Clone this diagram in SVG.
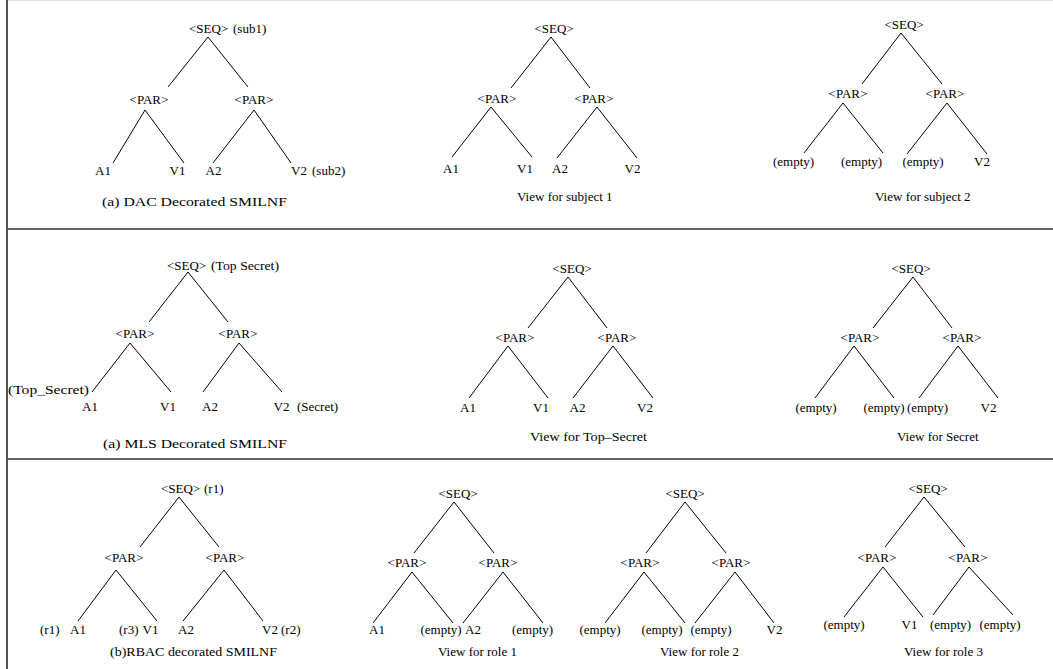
<svg xmlns="http://www.w3.org/2000/svg" width="1053" height="669" viewBox="0 0 1053 669">
  <style>
    text { font-family: "Liberation Serif", "Times New Roman", serif; font-size: 13px; fill: #000; }
    .c { text-anchor: middle; }
    .edge { stroke: #000; stroke-width: 1; fill: none; }
    .frame { stroke: #333; stroke-width: 1.5; fill: none; }
  </style>
  <rect x="0" y="0" width="1053" height="669" fill="#fff"/>

  <!-- frame and row separators -->
  <g id="frame">
    <line x1="8" y1="0.5" x2="1053" y2="0.5" stroke="#ddd" stroke-width="1"/>
    <line x1="7" y1="0" x2="7" y2="669" stroke="#555" stroke-width="2"/>
    <line class="frame" x1="8" y1="229" x2="1053" y2="229"/>
    <line class="frame" x1="8" y1="459" x2="1053" y2="459"/>
  </g>

  <!-- tree edges -->
  <g id="connectors" class="edge">
    <!-- DAC decorated -->
    <line x1="208" y1="37" x2="168" y2="87"/><line x1="208" y1="37" x2="248" y2="87"/>
    <line x1="145" y1="110" x2="113" y2="163"/><line x1="145" y1="110" x2="184" y2="163"/>
    <line x1="254" y1="110" x2="213" y2="163"/><line x1="254" y1="110" x2="291" y2="163"/>
    <!-- subject 1 -->
    <line x1="551" y1="37" x2="511" y2="88"/><line x1="551" y1="37" x2="590" y2="88"/>
    <line x1="491" y1="107" x2="452" y2="157"/><line x1="491" y1="107" x2="532" y2="157"/>
    <line x1="597" y1="107" x2="557" y2="158"/><line x1="597" y1="107" x2="637" y2="158"/>
    <!-- subject 2 -->
    <line x1="901" y1="33" x2="862" y2="84"/><line x1="901" y1="33" x2="942" y2="84"/>
    <line x1="843" y1="103" x2="804" y2="153"/><line x1="843" y1="103" x2="883" y2="153"/>
    <line x1="947" y1="103" x2="907" y2="154"/><line x1="947" y1="103" x2="987" y2="154"/>
    <!-- MLS decorated -->
    <line x1="188" y1="272" x2="149" y2="322"/><line x1="188" y1="272" x2="228" y2="322"/>
    <line x1="130" y1="343" x2="92" y2="392"/><line x1="130" y1="343" x2="171" y2="392"/>
    <line x1="239" y1="343" x2="203" y2="392"/><line x1="239" y1="343" x2="282" y2="392"/>
    <!-- Top-Secret -->
    <line x1="568" y1="277" x2="528" y2="328"/><line x1="568" y1="277" x2="607" y2="328"/>
    <line x1="508" y1="346" x2="469" y2="398"/><line x1="508" y1="346" x2="548" y2="398"/>
    <line x1="613" y1="346" x2="573" y2="398"/><line x1="613" y1="346" x2="653" y2="398"/>
    <!-- Secret -->
    <line x1="913" y1="277" x2="873" y2="328"/><line x1="913" y1="277" x2="952" y2="328"/>
    <line x1="854" y1="346" x2="815" y2="398"/><line x1="854" y1="346" x2="894" y2="398"/>
    <line x1="958" y1="346" x2="919" y2="398"/><line x1="958" y1="346" x2="998" y2="398"/>
    <!-- RBAC decorated -->
    <line x1="179" y1="497" x2="140" y2="547"/><line x1="179" y1="497" x2="219" y2="547"/>
    <line x1="116" y1="570" x2="78" y2="621"/><line x1="116" y1="570" x2="157" y2="621"/>
    <line x1="224" y1="570" x2="183" y2="621"/><line x1="224" y1="570" x2="263" y2="621"/>
    <!-- role 1 -->
    <line x1="454" y1="502" x2="414" y2="553"/><line x1="454" y1="502" x2="494" y2="553"/>
    <line x1="412" y1="572" x2="373" y2="623"/><line x1="412" y1="572" x2="453" y2="623"/>
    <line x1="503" y1="572" x2="463" y2="623"/><line x1="503" y1="572" x2="543" y2="623"/>
    <!-- role 2 -->
    <line x1="685" y1="502" x2="646" y2="553"/><line x1="685" y1="502" x2="726" y2="553"/>
    <line x1="644" y1="572" x2="605" y2="623"/><line x1="644" y1="572" x2="685" y2="623"/>
    <line x1="735" y1="572" x2="695" y2="623"/><line x1="735" y1="572" x2="774" y2="623"/>
    <!-- role 3 -->
    <line x1="924" y1="497" x2="885" y2="547"/><line x1="924" y1="497" x2="965" y2="547"/>
    <line x1="883" y1="567" x2="844" y2="617"/><line x1="883" y1="567" x2="923" y2="617"/>
    <line x1="969" y1="567" x2="933" y2="615"/><line x1="969" y1="567" x2="1013" y2="615"/>
  </g>

  <!-- ===== DAC decorated SMILNF ===== -->
  <g id="dac-seq"><text class="c" x="208.5" y="33">&lt;SEQ&gt;</text><text x="233" y="33">(sub1)</text></g>
  <g id="dac-par1"><text class="c" x="149" y="104">&lt;PAR&gt;</text></g>
  <g id="dac-par2"><text class="c" x="254" y="104">&lt;PAR&gt;</text></g>
  <g id="dac-a1"><text class="c" x="103" y="175">A1</text></g>
  <g id="dac-v1"><text class="c" x="177.5" y="175">V1</text></g>
  <g id="dac-a2"><text class="c" x="213.5" y="175">A2</text></g>
  <g id="dac-v2"><text class="c" x="299" y="175">V2</text><text x="312" y="175">(sub2)</text></g>
  <g id="dac-caption"><text x="102" y="206" textLength="185" lengthAdjust="spacingAndGlyphs">(a) DAC  Decorated SMILNF</text></g>

  <!-- ===== view for subject 1 ===== -->
  <g id="s1-seq"><text class="c" x="554" y="33">&lt;SEQ&gt;</text></g>
  <g id="s1-par1"><text class="c" x="497" y="103">&lt;PAR&gt;</text></g>
  <g id="s1-par2"><text class="c" x="594" y="103">&lt;PAR&gt;</text></g>
  <g id="s1-a1"><text class="c" x="451" y="173">A1</text></g>
  <g id="s1-v1"><text class="c" x="525" y="173">V1</text></g>
  <g id="s1-a2"><text class="c" x="560" y="173">A2</text></g>
  <g id="s1-v2"><text class="c" x="632.5" y="173">V2</text></g>
  <g id="s1-caption"><text x="517" y="201">View for subject 1</text></g>

  <!-- ===== view for subject 2 ===== -->
  <g id="s2-seq"><text class="c" x="904" y="29">&lt;SEQ&gt;</text></g>
  <g id="s2-par1"><text class="c" x="848" y="98">&lt;PAR&gt;</text></g>
  <g id="s2-par2"><text class="c" x="945" y="98">&lt;PAR&gt;</text></g>
  <g id="s2-l1"><text class="c" x="793.5" y="166">(empty)</text></g>
  <g id="s2-l2"><text class="c" x="861.5" y="166">(empty)</text></g>
  <g id="s2-l3"><text class="c" x="923" y="166">(empty)</text></g>
  <g id="s2-v2"><text class="c" x="982" y="166">V2</text></g>
  <g id="s2-caption"><text x="875" y="201">View for subject 2</text></g>

  <!-- ===== MLS decorated SMILNF ===== -->
  <g id="mls-seq"><text class="c" x="186.5" y="270">&lt;SEQ&gt;</text><text x="211" y="270" textLength="68" lengthAdjust="spacingAndGlyphs">(Top Secret)</text></g>
  <g id="mls-par1"><text class="c" x="135" y="338">&lt;PAR&gt;</text></g>
  <g id="mls-par2"><text class="c" x="238" y="338">&lt;PAR&gt;</text></g>
  <g id="mls-a1"><text x="8" y="394" textLength="81" lengthAdjust="spacingAndGlyphs">(Top_Secret)</text><text class="c" x="90" y="411">A1</text></g>
  <g id="mls-v1"><text class="c" x="168" y="411">V1</text></g>
  <g id="mls-a2"><text class="c" x="210" y="411">A2</text></g>
  <g id="mls-v2"><text class="c" x="281.5" y="411">V2</text><text x="297" y="411">(Secret)</text></g>
  <g id="mls-caption"><text x="103" y="448" textLength="184" lengthAdjust="spacingAndGlyphs">(a) MLS Decorated SMILNF</text></g>

  <!-- ===== view for Top-Secret ===== -->
  <g id="ts-seq"><text class="c" x="572" y="273">&lt;SEQ&gt;</text></g>
  <g id="ts-par1"><text class="c" x="515" y="342">&lt;PAR&gt;</text></g>
  <g id="ts-par2"><text class="c" x="617" y="342">&lt;PAR&gt;</text></g>
  <g id="ts-a1"><text class="c" x="468" y="412">A1</text></g>
  <g id="ts-v1"><text class="c" x="541" y="412">V1</text></g>
  <g id="ts-a2"><text class="c" x="577.5" y="412">A2</text></g>
  <g id="ts-v2"><text class="c" x="645" y="412">V2</text></g>
  <g id="ts-caption"><text x="530" y="441" textLength="117" lengthAdjust="spacingAndGlyphs">View for  Top–Secret</text></g>

  <!-- ===== view for Secret ===== -->
  <g id="sec-seq"><text class="c" x="911" y="273">&lt;SEQ&gt;</text></g>
  <g id="sec-par1"><text class="c" x="860" y="342">&lt;PAR&gt;</text></g>
  <g id="sec-par2"><text class="c" x="962" y="342">&lt;PAR&gt;</text></g>
  <g id="sec-l1"><text class="c" x="816" y="412">(empty)</text></g>
  <g id="sec-l2"><text class="c" x="884" y="412">(empty)</text></g>
  <g id="sec-l3"><text class="c" x="927.5" y="412">(empty)</text></g>
  <g id="sec-v2"><text class="c" x="988.5" y="412">V2</text></g>
  <g id="sec-caption"><text x="897" y="441">View for Secret</text></g>

  <!-- ===== RBAC decorated SMILNF ===== -->
  <g id="rbac-seq"><text class="c" x="180.5" y="493">&lt;SEQ&gt;</text><text x="204" y="493">(r1)</text></g>
  <g id="rbac-par1"><text class="c" x="124" y="562">&lt;PAR&gt;</text></g>
  <g id="rbac-par2"><text class="c" x="225" y="562">&lt;PAR&gt;</text></g>
  <g id="rbac-a1"><text x="40" y="634">(r1)</text><text class="c" x="78" y="634">A1</text></g>
  <g id="rbac-v1"><text x="119" y="634">(r3)</text><text class="c" x="150.5" y="634">V1</text></g>
  <g id="rbac-a2"><text class="c" x="186" y="634">A2</text></g>
  <g id="rbac-v2"><text class="c" x="270" y="634">V2</text><text x="281" y="634">(r2)</text></g>
  <g id="rbac-caption"><text x="110" y="656" textLength="167" lengthAdjust="spacingAndGlyphs">(b)RBAC decorated SMILNF</text></g>

  <!-- ===== view for role 1 ===== -->
  <g id="r1-seq"><text class="c" x="458" y="498">&lt;SEQ&gt;</text></g>
  <g id="r1-par1"><text class="c" x="407" y="567">&lt;PAR&gt;</text></g>
  <g id="r1-par2"><text class="c" x="498" y="567">&lt;PAR&gt;</text></g>
  <g id="r1-a1"><text class="c" x="377" y="634">A1</text></g>
  <g id="r1-l2"><text class="c" x="441" y="634">(empty)</text></g>
  <g id="r1-a2"><text class="c" x="473" y="634">A2</text></g>
  <g id="r1-l4"><text class="c" x="532.5" y="634">(empty)</text></g>
  <g id="r1-caption"><text x="438" y="656">View for role 1</text></g>

  <!-- ===== view for role 2 ===== -->
  <g id="r2-seq"><text class="c" x="685" y="498">&lt;SEQ&gt;</text></g>
  <g id="r2-par1"><text class="c" x="640" y="567">&lt;PAR&gt;</text></g>
  <g id="r2-par2"><text class="c" x="731" y="567">&lt;PAR&gt;</text></g>
  <g id="r2-l1"><text class="c" x="600" y="634">(empty)</text></g>
  <g id="r2-l2"><text class="c" x="662" y="634">(empty)</text></g>
  <g id="r2-l3"><text class="c" x="711" y="634">(empty)</text></g>
  <g id="r2-v2"><text class="c" x="774.5" y="634">V2</text></g>
  <g id="r2-caption"><text x="660" y="656">View for role 2</text></g>

  <!-- ===== view for role 3 ===== -->
  <g id="r3-seq"><text class="c" x="928" y="493">&lt;SEQ&gt;</text></g>
  <g id="r3-par1"><text class="c" x="877" y="562">&lt;PAR&gt;</text></g>
  <g id="r3-par2"><text class="c" x="968" y="562">&lt;PAR&gt;</text></g>
  <g id="r3-l1"><text class="c" x="844" y="629">(empty)</text></g>
  <g id="r3-v1"><text class="c" x="909.5" y="629">V1</text></g>
  <g id="r3-l3"><text class="c" x="950.5" y="629">(empty)</text></g>
  <g id="r3-l4"><text class="c" x="1000" y="629">(empty)</text></g>
  <g id="r3-caption"><text x="904" y="656">View for role 3</text></g>
</svg>
